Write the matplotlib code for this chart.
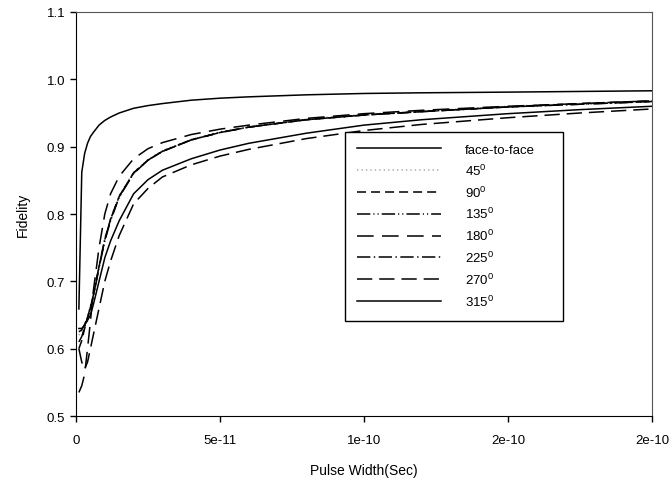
import numpy as np
import matplotlib
matplotlib.use('Agg')
import matplotlib.pyplot as plt

plt.rcParams['font.family'] = ['Liberation Sans', 'DejaVu Sans']
plt.rcParams['mathtext.default'] = 'regular'
plt.rcParams['lines.scale_dashes'] = False

# pulse width, in units of 1e-12 s
t_ps = [1, 2, 3, 4, 5, 6, 8, 10, 12, 15, 20, 25, 30, 40, 50, 60, 80, 100, 120, 150, 175, 200]

f2f  = [0.659, 0.862, 0.890, 0.905, 0.915, 0.921, 0.932, 0.939, 0.944, 0.950, 0.957, 0.961,
        0.964, 0.969, 0.972, 0.974, 0.977, 0.979, 0.980, 0.981, 0.982, 0.983]
a45  = [0.620, 0.626, 0.636, 0.648, 0.663, 0.680, 0.724, 0.764, 0.794, 0.828, 0.862, 0.881,
        0.894, 0.911, 0.922, 0.930, 0.941, 0.948, 0.953, 0.960, 0.964, 0.968]
a90  = [0.600, 0.612, 0.630, 0.645, 0.661, 0.678, 0.722, 0.762, 0.792, 0.826, 0.861, 0.880,
        0.893, 0.910, 0.921, 0.929, 0.940, 0.947, 0.952, 0.959, 0.964, 0.968]
a135 = [0.625, 0.628, 0.636, 0.646, 0.660, 0.676, 0.720, 0.760, 0.790, 0.825, 0.860, 0.880,
        0.893, 0.910, 0.921, 0.929, 0.940, 0.947, 0.952, 0.959, 0.963, 0.967]
a180 = [0.535, 0.545, 0.562, 0.600, 0.640, 0.685, 0.750, 0.800, 0.830, 0.856, 0.882, 0.897,
        0.906, 0.918, 0.926, 0.932, 0.942, 0.949, 0.954, 0.960, 0.964, 0.968]
a225 = [0.610, 0.618, 0.632, 0.646, 0.662, 0.679, 0.722, 0.762, 0.792, 0.826, 0.861, 0.880,
        0.893, 0.910, 0.921, 0.929, 0.940, 0.947, 0.952, 0.959, 0.963, 0.967]
a270 = [0.600, 0.580, 0.570, 0.580, 0.600, 0.620, 0.660, 0.700, 0.730, 0.768, 0.815, 0.838,
        0.855, 0.873, 0.886, 0.896, 0.912, 0.924, 0.933, 0.943, 0.950, 0.956]
a315 = [0.630, 0.630, 0.635, 0.642, 0.650, 0.665, 0.700, 0.735, 0.760, 0.790, 0.830, 0.851,
        0.865, 0.882, 0.895, 0.905, 0.920, 0.932, 0.940, 0.949, 0.955, 0.960]

labels = ['face-to-face', '45$^0$', '90$^0$', '135$^0$', '180$^0$', '225$^0$', '270$^0$', '315$^0$']
series = [f2f, a45, a90, a135, a180, a225, a270, a315]
styles = ['-', (0, (1, 2.2)), (0, (6.5, 3.6)), (0, (9.6, 2.2, 0.8, 2.2, 0.8, 2.2)),
          (0, (12, 6)), (0, (9.6, 2.5, 1, 2.5)), (0, (11, 5)), '-']
colors = ['black', '#aaaaaa', 'black', 'black', 'black', 'black', 'black', 'black']

xticks = [0, 5e-11, 1e-10, 1.5e-10, 2e-10]
xticklabels = ['0', '5e-11', '1e-10', '2e-10', '2e-10']
yticks = [0.5, 0.6, 0.7, 0.8, 0.9, 1.0, 1.1]

t = np.array(t_ps) * 1e-12

fig = plt.figure(figsize=(6.72, 4.85), dpi=100)
ax = fig.add_axes([0.1131, 0.1402, 0.8571, 0.833])

for y, lab, ls, c in zip(series, labels, styles, colors):
    ax.plot(t, y, linestyle=ls, color=c, linewidth=1.1, label=lab)

ax.set_xlim(0, 2e-10)
ax.set_ylim(0.5, 1.1)
ax.set_xticks(xticks)
ax.set_xticklabels(xticklabels)
ax.set_yticks(yticks)
ax.set_yticklabels(['%.1f' % v for v in yticks])
ax.tick_params(axis='both', direction='out', length=4.3, width=1, labelsize=9.5)
ax.tick_params(axis='x', pad=9)
ax.tick_params(axis='y', pad=3.5)
for s in ['top', 'right']:
    ax.spines[s].set_color('#555555')
ax.set_xlabel('Pulse Width(Sec)', fontsize=10, labelpad=12)
ax.set_ylabel('Fidelity', fontsize=10, labelpad=12)

leg = ax.legend(loc='upper left', bbox_to_anchor=(0.467, 0.703, 0.3785, 0.0), mode='expand',
                fontsize=9.5, handlelength=6.4, handletextpad=1.8, labelspacing=0.5,
                borderpad=0.9, borderaxespad=0, fancybox=False, framealpha=1,
                edgecolor='black')
leg.get_frame().set_linewidth(1)

fig.savefig('out.png', dpi=100)
